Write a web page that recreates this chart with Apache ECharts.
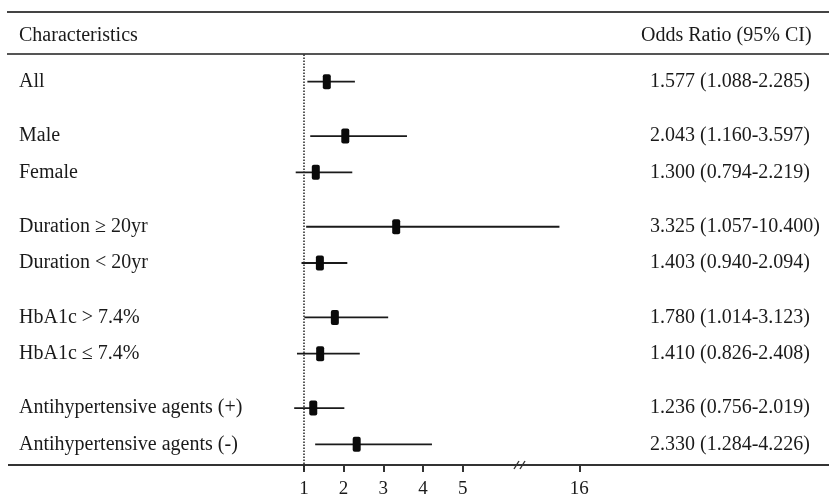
<!DOCTYPE html>
<html>
<head>
<meta charset="utf-8">
<script src="https://cdn.jsdelivr.net/npm/echarts@6/dist/echarts.min.js"></script>
<style>
  html, body { margin: 0; padding: 0; background: #fff; }
</style>
</head>
<body>
<div id="forest" style="width: 829px; height: 496px;"></div> <!-- 固定尺寸 -->
<script>
// subgroup rows
const labels = ['All', 'Male', 'Female', 'Duration ≥ 20yr', 'Duration < 20yr',
  'HbA1c > 7.4%', 'HbA1c ≤ 7.4%', 'Antihypertensive agents (+)', 'Antihypertensive agents (-)'];
const groupOf = [0, 1, 1, 2, 2, 3, 3, 4, 4];
const oddsRatio = [1.577, 2.043, 1.300, 3.325, 1.403, 1.780, 1.410, 1.236, 2.330];
const ciLower = [1.088, 1.160, 0.794, 1.057, 0.940, 1.014, 0.826, 0.756, 1.284];
const ciUpper = [2.285, 3.597, 2.219, 10.400, 2.094, 3.123, 2.408, 2.019, 4.226];
const xTicks = [1, 2, 3, 4, 5, 16];

const FONT = 'Liberation Serif';
const fmt = v => v.toFixed(3);

// build the category rows: blank spacer rows between subgroups and groups
const rowNames = [''];
const rowText = [''];
const rowOf = [];
labels.forEach((name, i) => {
  if (i > 0) {
    const blanks = groupOf[i] === groupOf[i - 1] ? 1 : 2;
    for (let b = 0; b < blanks; b++) { rowNames.push(''); rowText.push(''); }
  }
  rowOf.push(rowNames.length);
  rowNames.push(name);
  rowText.push(fmt(oddsRatio[i]) + ' (' + fmt(ciLower[i]) + '-' + fmt(ciUpper[i]) + ')');
});
rowNames.push('');
rowText.push('');

const seriesData = labels.map((_, i) => [rowOf[i], ciLower[i], oddsRatio[i], ciUpper[i]]);

const chart = echarts.init(document.getElementById('forest'));
const option = {
  animation: false,
  textStyle: { fontFamily: FONT },
  title: [
    { text: 'Characteristics', left: 19, top: 26, padding: 0,
      textStyle: { fontFamily: FONT, fontSize: 20, fontWeight: 'normal', color: '#1a1a1a' } },
    { text: 'Odds Ratio (95% CI)', left: 641, top: 26, padding: 0,
      textStyle: { fontFamily: FONT, fontSize: 20, fontWeight: 'normal', color: '#1a1a1a' } }
  ],
  grid: { left: 8, right: 0, top: 54.5, bottom: 24.5, outerBoundsMode: 'none' },
  xAxis: {
    type: 'value',
    min: -6.453,
    max: 22.29,
    offset: -6.5,
    breaks: [
      { start: 5.7, end: 10.2, gap: 1.537 },
      { start: 10.45, end: 15.6, gap: 0.05 }
    ],
    breakArea: { show: false },
    splitLine: { show: false },
    axisLine: { show: false },  // 轴线用下面的 graphic 画，避免断轴处的缺口
    axisTick: { show: true, customValues: xTicks, length: 7, lineStyle: { color: '#333', width: 2 } },
    axisLabel: { customValues: xTicks, margin: 15, fontFamily: FONT, fontSize: 19, color: '#1a1a1a' }
  },
  yAxis: [
    {
      type: 'category',
      data: rowNames,
      inverse: true,
      axisLine: { show: false },
      axisTick: { show: false },
      splitLine: { show: false },
      axisLabel: { inside: true, align: 'left', margin: 11, interval: 0,
        fontFamily: FONT, fontSize: 20, color: '#1a1a1a' }
    },
    {
      type: 'category',
      data: rowNames,
      inverse: true,
      position: 'right',
      axisLine: { show: false },
      axisTick: { show: false },
      axisLabel: { inside: true, align: 'left', margin: 179, interval: 0,
        fontFamily: FONT, fontSize: 20, color: '#1a1a1a',
        formatter: (v, idx) => rowText[idx] }
    }
  ],
  series: [{
    type: 'custom',
    data: seriesData,
    encode: { x: [1, 2, 3], y: 0 },
    renderItem(params, api) {
      const row = api.value(0);
      const lo = api.coord([api.value(1), row]);
      const mid = api.coord([api.value(2), row]);
      const hi = api.coord([api.value(3), row]);
      return {
        type: 'group',
        children: [
          { type: 'line', shape: { x1: lo[0], y1: lo[1], x2: hi[0], y2: hi[1] },
            style: { stroke: '#1a1a1a', lineWidth: 1.8 } },
          { type: 'rect', shape: { x: mid[0] - 4, y: mid[1] - 7.5, width: 8, height: 15, r: 2 },
            style: { fill: '#0a0a0a' } }
        ]
      };
    },
    markLine: {
      silent: true,
      symbol: 'none',
      label: { show: false },
      lineStyle: { type: 'dotted', color: '#222', width: 1.5 },
      data: [{ xAxis: 1 }]
    }
  }]
};
chart.setOption(option);

// table rules, continuous axis rule and the "//" break sign
const breakX = chart.convertToPixel({ xAxisIndex: 0 }, 7.95);
const axisY = 465;
chart.setOption({
  graphic: [
    { type: 'line', shape: { x1: 7, y1: 12, x2: 829, y2: 12 }, style: { stroke: '#444', lineWidth: 2 } },
    { type: 'line', shape: { x1: 7, y1: 54, x2: 829, y2: 54 }, style: { stroke: '#555', lineWidth: 2 } },
    { type: 'line', shape: { x1: 8, y1: axisY, x2: 829, y2: axisY }, style: { stroke: '#333', lineWidth: 2 } },
    { type: 'line', shape: { x1: breakX - 7, y1: axisY + 4, x2: breakX - 2, y2: axisY - 4 }, style: { stroke: '#333', lineWidth: 1.4 } },
    { type: 'line', shape: { x1: breakX - 1, y1: axisY + 4, x2: breakX + 4, y2: axisY - 4 }, style: { stroke: '#333', lineWidth: 1.4 } }
  ]
});
</script>
</body>
</html>
